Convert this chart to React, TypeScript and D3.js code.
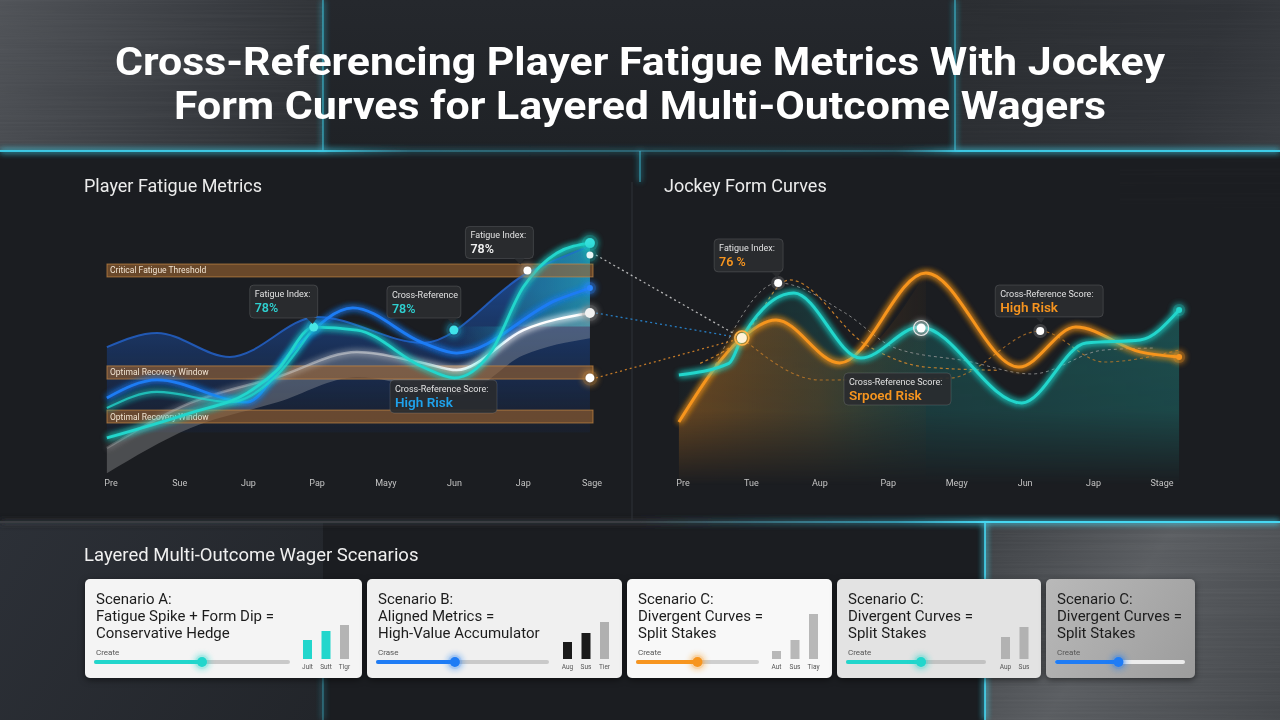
import React, { useEffect, useRef } from 'react';
import * as d3 from 'd3';

// x-axis tick labels
const leftMonths = ['Pre', 'Sue', 'Jup', 'Pap', 'Mayy', 'Jun', 'Jap', 'Sage'];
const rightMonths = ['Pre', 'Tue', 'Aup', 'Pap', 'Megy', 'Jun', 'Jap', 'Stage'];

// player fatigue series: [month index, index value 0-100]
const fatigueTeal = [[-0.06, 9.6], [1.15, 20.4], [1.98, 29.1], [2.42, 39.1], [2.95, 57.8], [3.58, 56.5], [4.54, 40.4], [5.0, 35.7], [5.52, 46.5], [6.0, 75.2], [6.49, 90], [6.97, 94.3]];
const fatigueTealEarly = [[-0.06, 22.6], [0.67, 29.6], [1.73, 25.2], [2.42, 37], [2.95, 57.8]];
const fatigueBlue = [[-0.06, 27], [0.67, 34.8], [1.98, 25.2], [2.61, 46.5], [3.52, 66.1], [4.54, 50.9], [5.03, 46.5], [6.49, 69.6], [6.97, 74.8]];
const fatigueLoad = [[-0.06, 49.1], [0.67, 55.2], [1.73, 44.8], [3.0, 62.2], [4.54, 50.9], [6.06, 81.3], [6.97, 93]];
const fatigueBaseline = [[-0.06, 5.2], [1.15, 24.8], [2.42, 36.1], [3.58, 47], [4.54, 42.2], [5.03, 39.1], [6.0, 56.5], [6.97, 63.9]];
const baselineSpread = 11;

// threshold bands on the fatigue chart
const fatigueBands = [
  { label: 'Critical Fatigue Threshold', lo: 79.6, hi: 85.2 },
  { label: 'Optimal Recovery Window', lo: 35.2, hi: 40.9 },
  { label: 'Optimal Recovery Window', lo: 16.1, hi: 21.7 },
];

// marked points on the fatigue chart
const fatigueCritical = [6.06, 82.4];
const fatiguePeak = [2.95, 57.8];
const crossRefPoint = [4.99, 56.5];
const fatigueEnds = [
  { v: 94.3, fill: '#35e0dc', ring: '#1fd1c6', r: 5 },
  { v: 89.1, fill: '#e8f6f6', ring: '#1fa8a8', r: 3.5 },
  { v: 74.8, fill: '#2a86ff', ring: '#2a86ff', r: 3 },
  { v: 63.9, fill: '#f2f2f2', ring: '#8a8a8a', r: 5 },
  { v: 35.7, fill: '#ffffff', ring: '#c88a3a', r: 4.5 },
];

// jockey form series: [month index, form value 0-100]
const formTeal = [[-0.06, 37], [0.67, 42], [0.86, 53], [1.62, 72.6], [2.6, 44.3], [3.46, 57.8], [4.95, 24.8], [5.89, 50.9], [6.68, 52.2], [7.25, 65.2]];
const formOrange = [[-0.06, 16.5], [0.86, 53], [1.36, 60.9], [2.29, 42.2], [3.55, 81.3], [4.91, 40.4], [5.74, 57.8], [6.68, 47], [7.25, 44.8]];
const crossDashHigh = [[0.25, 42], [0.86, 53], [1.56, 78.3], [2.68, 50], [3.55, 40.4], [4.6, 39]];
const crossDashLow = [[0.86, 53], [2.0, 34.8], [3.9, 35.6], [5.22, 56.1], [6.15, 42.6], [7.25, 47.8]];
const formDashGray = [[0.47, 41.3], [1.39, 77], [2.37, 63.9], [3.1, 48.7], [4.15, 43], [5.1, 37.4], [6.15, 47.8], [6.9, 48.7]];

const formCross = [0.86, 53];
const formFatigue = [1.39, 77];
const formMid = [3.48, 57.4];
const formHigh = [5.22, 56.1];

// wager scenario cards
const scenarioTitles = [
  ['Scenario A:', 'Fatigue Spike + Form Dip =', 'Conservative Hedge'],
  ['Scenario B:', 'Aligned Metrics =', 'High-Value Accumulator'],
  ['Scenario C:', 'Divergent Curves =', 'Split Stakes'],
  ['Scenario C:', 'Divergent Curves =', 'Split Stakes'],
  ['Scenario C:', 'Divergent Curves =', 'Split Stakes'],
];
const sliderLabels = ['Create', 'Crase', 'Create', 'Create', 'Create'];
const sliderValues = [0.552, 0.455, 0.5, 0.537, 0.488];
const barValues = [[38, 56, 68], [34, 52, 74], [16, 38, 90], [44, 64], []];
const barLabels = [['Jult', 'Sutt', 'Tlgr'], ['Aug', 'Sus', 'Tier'], ['Aut', 'Sus', 'Tiay'], ['Aup', 'Sus'], []];

const TEAL = '#22d6cc';
const BLUE = '#1f7cf5';
const ORANGE = '#f7951f';
const FONT = "Roboto, 'Noto Sans', sans-serif";

const App = () => {
  const ref = useRef<SVGSVGElement>(null);

  useEffect(() => {
    const svg = d3.select(ref.current);
    svg.selectAll('*').remove();
    const defs = svg.append('defs');

    // glow filters
    const makeGlow = (id: string, sd: number) => {
      const f = defs.append('filter').attr('id', id).attr('filterUnits', 'userSpaceOnUse')
        .attr('x', 0).attr('y', 0).attr('width', 1280).attr('height', 720);
      f.append('feGaussianBlur').attr('in', 'SourceGraphic').attr('stdDeviation', sd).attr('result', 'b');
      const m = f.append('feMerge');
      m.append('feMergeNode').attr('in', 'b');
      m.append('feMergeNode').attr('in', 'b');
      m.append('feMergeNode').attr('in', 'SourceGraphic');
    };
    makeGlow('glow', 3);
    makeGlow('glowBig', 6);

    const soft = defs.append('filter').attr('id', 'shadow').attr('x', '-10%').attr('y', '-10%').attr('width', '120%').attr('height', '130%');
    soft.append('feDropShadow').attr('dx', 0).attr('dy', 2).attr('stdDeviation', 3).attr('flood-color', '#000').attr('flood-opacity', 0.5);

    // brushed metal texture
    const brush = defs.append('filter').attr('id', 'brush').attr('filterUnits', 'userSpaceOnUse')
      .attr('x', 0).attr('y', 0).attr('width', 1280).attr('height', 720);
    brush.append('feTurbulence').attr('type', 'fractalNoise').attr('baseFrequency', '0.003 0.45').attr('numOctaves', 2).attr('seed', 4).attr('result', 'n');
    brush.append('feColorMatrix').attr('in', 'n').attr('type', 'matrix')
      .attr('values', '0 0 0 0 1  0 0 0 0 1  0 0 0 0 1  0.7 0 0 0 -0.25').attr('result', 'w');
    brush.append('feComposite').attr('in', 'w').attr('in2', 'SourceGraphic').attr('operator', 'in');

    const linGrad = (id: string, x1: number, y1: number, x2: number, y2: number, stops: [number, string, number][]) => {
      const g = defs.append('linearGradient').attr('id', id).attr('gradientUnits', 'userSpaceOnUse')
        .attr('x1', x1).attr('y1', y1).attr('x2', x2).attr('y2', y2);
      stops.forEach(([o, c, a]) => g.append('stop').attr('offset', o).attr('stop-color', c).attr('stop-opacity', a));
    };

    linGrad('metalTL', 0, 0, 323, 151, [[0, '#505358', 1], [0.6, '#383b40', 1], [1, '#2a2d31', 1]]);
    linGrad('metalTM', 0, 0, 0, 151, [[0, '#25282d', 1], [1, '#1f2226', 1]]);
    linGrad('metalTR', 955, 0, 1280, 151, [[0, '#2a2d31', 1], [0.7, '#303338', 1], [1, '#3a3d42', 1]]);
    linGrad('metalBR', 985, 522, 1280, 720, [[0, '#3e4145', 1], [0.45, '#5a5d61', 1], [1, '#44474b', 1]]);
    linGrad('metalBL', 0, 522, 323, 720, [[0, '#2c3037', 1], [1, '#22252a', 1]]);
    linGrad('cyanTop', 0, 0, 1280, 0, [[0, '#3fd3ef', 0.9], [0.25, '#3fd3ef', 0.9], [0.32, '#3a8ea3', 0.55], [0.7, '#3a8ea3', 0.45], [0.75, '#3fd3ef', 0.9], [1, '#3fd3ef', 0.95]]);
    linGrad('midLine', 0, 0, 1280, 0, [[0, '#3b3e43', 1], [0.5, '#3b3e43', 1], [0.7, '#3aa7c0', 0.8], [0.77, '#47d8f2', 1], [1, '#47d8f2', 1]]);

    // vertical fade for the form chart fills
    linGrad('fadeDown', 0, 300, 0, 485, [[0, '#ffffff', 1], [0.6, '#ffffff', 0.85], [1, '#ffffff', 0]]);
    const fadeMask = defs.append('mask').attr('id', 'fadeMask').attr('maskUnits', 'userSpaceOnUse')
      .attr('x', 0).attr('y', 0).attr('width', 1280).attr('height', 720);
    fadeMask.append('rect').attr('x', 640).attr('y', 200).attr('width', 640).attr('height', 300).attr('fill', 'url(#fadeDown)');

    // ---- background ----
    svg.append('rect').attr('width', 1280).attr('height', 720).attr('fill', '#1b1d21');
    svg.append('rect').attr('width', 1280).attr('height', 151).attr('fill', 'url(#metalTM)');
    svg.append('rect').attr('width', 323).attr('height', 151).attr('fill', 'url(#metalTL)');
    svg.append('rect').attr('x', 955).attr('width', 325).attr('height', 151).attr('fill', 'url(#metalTR)');
    svg.append('rect').attr('x', 0).attr('y', 522).attr('width', 323).attr('height', 198).attr('fill', 'url(#metalBL)');
    svg.append('rect').attr('x', 985).attr('y', 522).attr('width', 295).attr('height', 198).attr('fill', 'url(#metalBR)');
    [[0, 0, 323, 151, 0.09], [955, 0, 325, 151, 0.05], [985, 522, 295, 198, 0.1], [1120, 151, 160, 60, 0.03]].forEach(([x, yy, w, h, o]) => {
      svg.append('rect').attr('x', x).attr('y', yy).attr('width', w).attr('height', h)
        .attr('fill', '#fff').attr('opacity', o).attr('filter', 'url(#brush)');
    });

    // glowing frame lines
    const frame = svg.append('g').attr('filter', 'url(#glow)').attr('fill', 'none');
    frame.append('line').attr('x1', 0).attr('x2', 1280).attr('y1', 151).attr('y2', 151).attr('stroke', 'url(#cyanTop)').attr('stroke-width', 2);
    frame.append('line').attr('x1', 323).attr('x2', 323).attr('y1', 0).attr('y2', 151).attr('stroke', '#3fcbe6').attr('stroke-width', 1.2).attr('opacity', 0.8);
    frame.append('line').attr('x1', 955).attr('x2', 955).attr('y1', 0).attr('y2', 151).attr('stroke', '#3fcbe6').attr('stroke-width', 1.2).attr('opacity', 0.8);
    frame.append('line').attr('x1', 640).attr('x2', 640).attr('y1', 151).attr('y2', 182).attr('stroke', '#3fcbe6').attr('stroke-width', 1.2).attr('opacity', 0.7);
    frame.append('line').attr('x1', 0).attr('x2', 1280).attr('y1', 522).attr('y2', 522).attr('stroke', 'url(#midLine)').attr('stroke-width', 2);
    frame.append('line').attr('x1', 985).attr('x2', 985).attr('y1', 522).attr('y2', 720).attr('stroke', '#47d8f2').attr('stroke-width', 1.6);
    frame.append('line').attr('x1', 323).attr('x2', 323).attr('y1', 600).attr('y2', 720).attr('stroke', '#3fcbe6').attr('stroke-width', 1).attr('opacity', 0.6);
    svg.append('line').attr('x1', 632).attr('x2', 632).attr('y1', 182).attr('y2', 520).attr('stroke', '#2c2f34').attr('stroke-width', 1.2);

    // ---- title ----
    const title = svg.append('g').attr('font-family', "Roboto, Inter, sans-serif").attr('font-weight', 700).attr('fill', '#ffffff').attr('font-size', 38).attr('text-anchor', 'middle');
    title.append('text').attr('x', 640).attr('y', 75).attr('textLength', 1050).attr('lengthAdjust', 'spacingAndGlyphs')
      .text('Cross-Referencing Player Fatigue Metrics With Jockey');
    title.append('text').attr('x', 640).attr('y', 119).attr('textLength', 932).attr('lengthAdjust', 'spacingAndGlyphs')
      .text('Form Curves for Layered Multi-Outcome Wagers');

    svg.append('text').attr('x', 84).attr('y', 192).attr('font-family', FONT).attr('font-size', 18).attr('fill', '#ececec').text('Player Fatigue Metrics');
    svg.append('text').attr('x', 664).attr('y', 192).attr('font-family', FONT).attr('font-size', 18).attr('fill', '#ececec').text('Jockey Form Curves');

    // ---- scales ----
    const y = d3.scaleLinear().domain([0, 100]).range([460, 230]);
    const xL = d3.scaleLinear().domain([0, 7]).range([111, 592]);
    const xR = d3.scaleLinear().domain([0, 7]).range([683, 1162]);

    const lineL = d3.line<number[]>().x(d => xL(d[0])).y(d => y(d[1])).curve(d3.curveMonotoneX);
    const lineR = d3.line<number[]>().x(d => xR(d[0])).y(d => y(d[1])).curve(d3.curveMonotoneX);

    // ---- left chart ----
    const left = svg.append('g');

    linGrad('loadFill', 0, 290, 0, 450, [[0, '#1d5fc9', 0.55], [0.6, '#163f8a', 0.35], [1, '#12306a', 0.05]]);
    linGrad('tealFillL', 460, 0, 592, 0, [[0, '#22c4c8', 0], [0.4, '#22b5c8', 0.3], [1, '#26c9d2', 0.55]]);
    linGrad('baseStroke', 107, 0, 592, 0, [[0, '#cfcfcf', 0.25], [0.6, '#e6e6e6', 0.55], [0.75, '#ffffff', 1], [1, '#ffffff', 1]]);

    left.append('path').datum(fatigueLoad)
      .attr('d', d3.area<number[]>().x(d => xL(d[0])).y1(d => y(d[1])).y0(y(12)).curve(d3.curveMonotoneX))
      .attr('fill', 'url(#loadFill)');
    left.append('path').datum(fatigueTeal.filter(d => d[0] >= 5))
      .attr('d', d3.area<number[]>().x(d => xL(d[0])).y1(d => y(d[1])).y0(y(58)).curve(d3.curveMonotoneX))
      .attr('fill', 'url(#tealFillL)');
    left.append('path').datum(fatigueBaseline)
      .attr('d', d3.area<number[]>().x(d => xL(d[0])).y1(d => y(d[1])).y0(d => y(d[1] - baselineSpread)).curve(d3.curveMonotoneX))
      .attr('fill', '#bdbdbd').attr('opacity', 0.3);

    // threshold bands
    fatigueBands.forEach(b => {
      left.append('rect').attr('x', 107).attr('width', 486).attr('y', y(b.hi)).attr('height', y(b.lo) - y(b.hi))
        .attr('fill', '#9a6330').attr('fill-opacity', 0.62).attr('stroke', '#c98a45').attr('stroke-opacity', 0.7);
      left.append('text').attr('x', 110).attr('y', (y(b.hi) + y(b.lo)) / 2 + 3).attr('font-family', FONT)
        .attr('font-size', 8.5).attr('fill', '#f1e4d2').text(b.label);
    });

    left.append('path').datum(fatigueLoad).attr('d', lineL).attr('fill', 'none')
      .attr('stroke', '#2361c8').attr('stroke-width', 2).attr('opacity', 0.85);
    left.append('path').datum(fatigueBaseline).attr('d', lineL).attr('fill', 'none')
      .attr('stroke', 'url(#baseStroke)').attr('stroke-width', 2.5).attr('filter', 'url(#glow)');
    left.append('path').datum(fatigueBlue).attr('d', lineL).attr('fill', 'none')
      .attr('stroke', BLUE).attr('stroke-width', 2.8).attr('filter', 'url(#glow)');
    left.append('path').datum(fatigueTealEarly).attr('d', lineL).attr('fill', 'none')
      .attr('stroke', TEAL).attr('stroke-width', 2.2).attr('opacity', 0.85).attr('filter', 'url(#glow)');
    left.append('path').datum(fatigueTeal).attr('d', lineL).attr('fill', 'none')
      .attr('stroke', TEAL).attr('stroke-width', 2.8).attr('filter', 'url(#glow)');

    left.selectAll('text.tick').data(leftMonths).enter().append('text')
      .attr('x', (d, i) => xL(i)).attr('y', 486).attr('text-anchor', 'middle')
      .attr('font-family', FONT).attr('font-size', 9).attr('fill', '#c4c4c4').text(d => d);

    // ---- right chart ----
    const right = svg.append('g');
    linGrad('orangeFill', 679, 0, 960, 0, [[0, '#c8761e', 0.5], [0.5, '#9a5a1c', 0.35], [1, '#5a3a1a', 0]]);
    linGrad('tealFillR', 679, 0, 1180, 0, [[0, '#1b6b6a', 0.05], [0.35, '#1c7a78', 0.35], [1, '#1e8c88', 0.45]]);

    const fills = right.append('g').attr('mask', 'url(#fadeMask)');
    fills.append('path').datum(formTeal)
      .attr('d', d3.area<number[]>().x(d => xR(d[0])).y1(d => y(d[1])).y0(y(0) + 25).curve(d3.curveMonotoneX))
      .attr('fill', 'url(#tealFillR)');
    fills.append('path').datum(formOrange.filter(d => d[0] <= 4))
      .attr('d', d3.area<number[]>().x(d => xR(d[0])).y1(d => y(d[1])).y0(y(0) + 25).curve(d3.curveMonotoneX))
      .attr('fill', 'url(#orangeFill)');

    right.append('path').datum(formDashGray).attr('d', lineR).attr('fill', 'none')
      .attr('stroke', '#9a9a9a').attr('stroke-width', 1).attr('stroke-dasharray', '3,3').attr('opacity', 0.8);
    right.append('path').datum(crossDashHigh).attr('d', lineR).attr('fill', 'none')
      .attr('stroke', '#d98a2a').attr('stroke-width', 1.2).attr('stroke-dasharray', '3,3').attr('opacity', 0.85);
    right.append('path').datum(crossDashLow).attr('d', lineR).attr('fill', 'none')
      .attr('stroke', '#c07a28').attr('stroke-width', 1.1).attr('stroke-dasharray', '3,3').attr('opacity', 0.8);

    right.append('path').datum(formOrange).attr('d', lineR).attr('fill', 'none')
      .attr('stroke', ORANGE).attr('stroke-width', 3).attr('filter', 'url(#glow)');
    right.append('path').datum(formTeal).attr('d', lineR).attr('fill', 'none')
      .attr('stroke', TEAL).attr('stroke-width', 3).attr('filter', 'url(#glow)');

    right.selectAll('text.tick').data(rightMonths).enter().append('text')
      .attr('x', (d, i) => xR(i)).attr('y', 486).attr('text-anchor', 'middle')
      .attr('font-family', FONT).attr('font-size', 9).attr('fill', '#c4c4c4').text(d => d);

    // connectors from the fatigue chart endpoints into the form chart
    const cx = xR(formCross[0]);
    const cy = y(formCross[1]);
    [[fatigueEnds[1].v, '#d0d0d0'], [fatigueEnds[3].v, '#2a8fe0'], [fatigueEnds[4].v, '#e08a2a']].forEach(([v, c]) => {
      svg.append('line').attr('x1', xL(6.97) + 6).attr('y1', y(v as number)).attr('x2', cx).attr('y2', cy)
        .attr('stroke', c as string).attr('stroke-width', 1.3).attr('stroke-dasharray', '2,3').attr('opacity', 0.85);
    });

    // ---- dots ----
    const ringDot = (g: any, x: number, yy: number, r: number, fill: string, ring: string, glow = true) => {
      g.append('circle').attr('cx', x).attr('cy', yy).attr('r', r + 3).attr('fill', ring).attr('opacity', 0.45)
        .attr('filter', glow ? 'url(#glow)' : null);
      g.append('circle').attr('cx', x).attr('cy', yy).attr('r', r).attr('fill', fill);
    };

    const dots = svg.append('g');
    ringDot(dots, xL(fatigueCritical[0]), y(fatigueCritical[1]), 4, '#ffffff', '#9a8a78');
    ringDot(dots, xL(fatiguePeak[0]), y(fatiguePeak[1]), 4.5, '#48e6e6', '#1fa0c8');
    ringDot(dots, xL(crossRefPoint[0]), y(crossRefPoint[1]) + 0, 4.5, '#40e4ea', '#1a8fb0');
    fatigueEnds.forEach(e => ringDot(dots, xL(6.97), y(e.v), e.r, e.fill, e.ring));

    ringDot(dots, cx, cy, 5, '#fff3d8', ORANGE);
    dots.append('circle').attr('cx', cx).attr('cy', cy).attr('r', 7).attr('fill', 'none').attr('stroke', '#ffb347').attr('stroke-width', 1.5);
    ringDot(dots, xR(formFatigue[0]), y(formFatigue[1]), 4, '#ffffff', '#6a6a6a', false);
    ringDot(dots, xR(formMid[0]), y(formMid[1]), 4.5, '#ffffff', '#c8c8c8');
    dots.append('circle').attr('cx', xR(formMid[0])).attr('cy', y(formMid[1])).attr('r', 7.5).attr('fill', 'none').attr('stroke', '#e8e8e8').attr('stroke-width', 1.2);
    ringDot(dots, xR(formHigh[0]), y(formHigh[1]), 4, '#ffffff', '#6a6a6a', false);
    ringDot(dots, xR(7.25), y(formTeal[formTeal.length - 1][1]), 3, TEAL, TEAL);
    ringDot(dots, xR(7.25), y(formOrange[formOrange.length - 1][1]), 3, ORANGE, ORANGE);

    // ---- callouts ----
    const callout = (x: number, yy: number, w: number, h: number, l1: string, l2: string, c2: string, size: number, tailX?: number) => {
      const g = svg.append('g');
      g.append('rect').attr('x', x).attr('y', yy).attr('width', w).attr('height', h).attr('rx', 4)
        .attr('fill', '#2a2c30').attr('fill-opacity', 0.92).attr('stroke', '#ffffff').attr('stroke-opacity', 0.13);
      if (tailX !== undefined) {
        g.append('path').attr('d', `M${tailX - 5},${yy + h} L${tailX + 5},${yy + h} L${tailX + 1},${yy + h + 6} Z`)
          .attr('fill', '#2a2c30').attr('fill-opacity', 0.92);
      }
      g.append('text').attr('x', x + 5).attr('y', yy + 12).attr('font-family', FONT).attr('font-size', 9)
        .attr('fill', '#e2e2e2').text(l1);
      g.append('text').attr('x', x + 5).attr('y', yy + 27).attr('font-family', FONT).attr('font-size', size)
        .attr('font-weight', 600).attr('fill', c2).text(l2);
    };

    const fcX = xL(fatigueCritical[0]);
    const fcY = y(fatigueCritical[1]);
    callout(fcX - 62, fcY - 44, 68, 32, 'Fatigue Index:', '78%', '#f0f0f0', 12.5, fcX - 8);
    const fpX = xL(fatiguePeak[0]);
    const fpY = y(fatiguePeak[1]);
    callout(fpX - 64, fpY - 42, 68, 33, 'Fatigue Index:', '78%', '#2fd0d0', 12.5, fpX - 2);
    const crX = xL(crossRefPoint[0]);
    const crY = y(crossRefPoint[1]);
    callout(crX - 67, crY - 44, 74, 32, 'Cross-Reference', '78%', '#2fd0d0', 12.5, crX - 2);
    callout(390, 380, 107, 33, 'Cross-Reference Score:', 'High Risk', '#1fa2ec', 13.5);

    const ffX = xR(formFatigue[0]);
    const ffY = y(formFatigue[1]);
    callout(ffX - 64, ffY - 44, 69, 33, 'Fatigue Index:', '76 %', ORANGE, 12.5, ffX - 2);
    callout(844, 373, 107, 32, 'Cross-Reference Score:', 'Srpoed Risk', ORANGE, 13.5);
    const fhX = xR(formHigh[0]);
    const fhY = y(formHigh[1]);
    callout(fhX - 45, fhY - 46, 108, 32, 'Cross-Reference Score:', 'High Risk', ORANGE, 13.5, fhX);

    // ---- scenario cards ----
    svg.append('text').attr('x', 84).attr('y', 561).attr('font-family', FONT).attr('font-size', 18.5)
      .attr('fill', '#f0f0f0').text('Layered Multi-Outcome Wager Scenarios');

    linGrad('card5', 1046, 579, 1195, 678, [[0, '#b9b9b9', 1], [1, '#9c9c9c', 1]]);
    const cards = [
      { x: 85, w: 277, fill: '#f4f4f4', accent: TEAL, track: 203, bars: 218, barColors: [TEAL, TEAL, '#b4b4b4'], trackColor: '#c9c9c9' },
      { x: 367, w: 255, fill: '#f0f0f0', accent: BLUE, track: 180, bars: 196, barColors: ['#1a1a1a', '#1a1a1a', '#b0b0b0'], trackColor: '#c9c9c9' },
      { x: 627, w: 205, fill: '#f8f8f8', accent: ORANGE, track: 130, bars: 145, barColors: ['#b8b8b8', '#b8b8b8', '#b8b8b8'], trackColor: '#cfcfcf' },
      { x: 837, w: 204, fill: '#e3e3e3', accent: TEAL, track: 147, bars: 164, barColors: ['#b2b2b2', '#b2b2b2'], trackColor: '#c2c2c2' },
      { x: 1046, w: 149, fill: 'url(#card5)', accent: BLUE, track: 137, bars: 0, barColors: [], trackColor: '#ececec' },
    ];
    const barH = d3.scaleLinear().domain([0, 100]).range([0, 50]);

    cards.forEach((c, i) => {
      const g = svg.append('g');
      g.append('rect').attr('x', c.x).attr('y', 579).attr('width', c.w).attr('height', 99).attr('rx', 5)
        .attr('fill', c.fill).attr('filter', 'url(#shadow)');
      scenarioTitles[i].forEach((t, j) => {
        g.append('text').attr('x', c.x + 11).attr('y', 604 + j * 17).attr('font-family', FONT).attr('font-size', 15)
          .attr('fill', '#1c1c1c').text(t);
      });
      g.append('text').attr('x', c.x + 11).attr('y', 655).attr('font-family', FONT).attr('font-size', 8)
        .attr('fill', '#555').text(sliderLabels[i]);
      const tx0 = c.x + 11;
      const tx1 = c.x + c.track;
      const slider = d3.scaleLinear().domain([0, 1]).range([tx0, tx1]);
      g.append('line').attr('x1', tx0).attr('x2', tx1).attr('y1', 662).attr('y2', 662)
        .attr('stroke', c.trackColor).attr('stroke-width', 4).attr('stroke-linecap', 'round');
      g.append('line').attr('x1', tx0).attr('x2', slider(sliderValues[i])).attr('y1', 662).attr('y2', 662)
        .attr('stroke', c.accent).attr('stroke-width', 4).attr('stroke-linecap', 'round');
      g.append('circle').attr('cx', slider(sliderValues[i])).attr('cy', 662).attr('r', 7).attr('fill', c.accent)
        .attr('opacity', 0.35).attr('filter', 'url(#glow)');
      g.append('circle').attr('cx', slider(sliderValues[i])).attr('cy', 662).attr('r', 5).attr('fill', c.accent);

      barValues[i].forEach((v, j) => {
        const bx = c.x + c.bars + j * 18.5;
        g.append('rect').attr('x', bx).attr('y', 659 - barH(v)).attr('width', 9).attr('height', barH(v))
          .attr('fill', c.barColors[j]);
        g.append('text').attr('x', bx + 4.5).attr('y', 669).attr('text-anchor', 'middle').attr('font-family', FONT)
          .attr('font-size', 6.5).attr('fill', '#555').text(barLabels[i][j]);
      });
    });
  }, []);

  return (
    <div style={{ position: 'absolute', left: 0, top: 0 }}>
      <svg ref={ref} width={1280} height={720} />
    </div>
  );
};

export default App;
